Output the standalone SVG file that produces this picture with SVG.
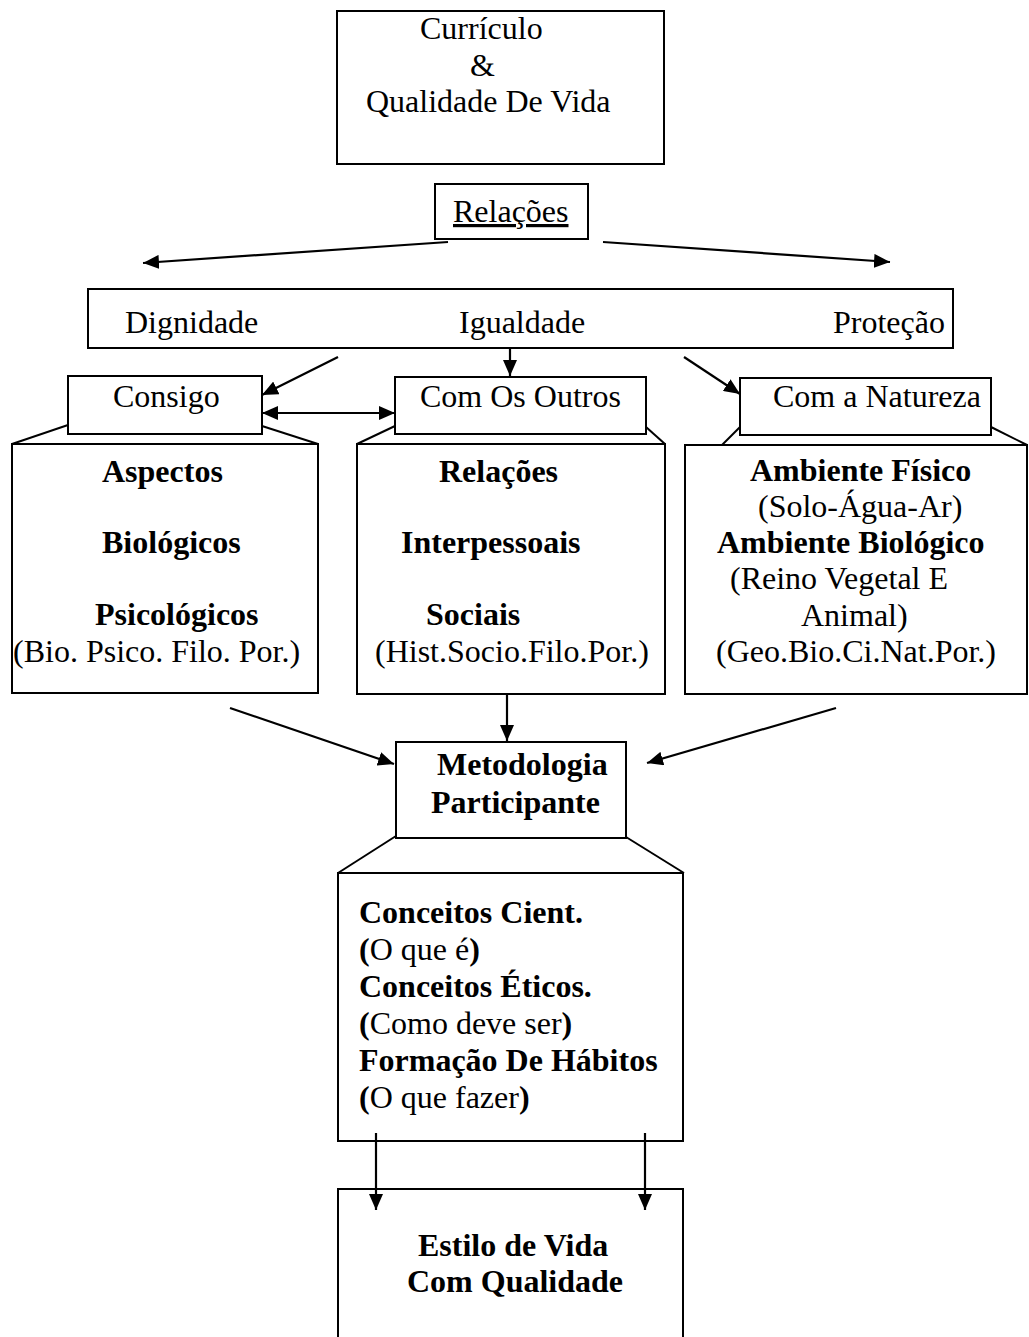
<svg xmlns="http://www.w3.org/2000/svg" width="1029" height="1337" viewBox="0 0 1029 1337">
<style>
.box{fill:#fff;stroke:#000;stroke-width:2}
.ln{fill:none;stroke:#000;stroke-width:2}
.arr{fill:none;stroke:#000;stroke-width:2.2;marker-end:url(#ah)}
text{font-family:"Liberation Serif","Times New Roman",serif;font-size:32px;fill:#000}
.b{font-weight:bold}
.u{text-decoration:underline}
</style>
<defs>
<marker id="ah" markerUnits="userSpaceOnUse" markerWidth="18" markerHeight="14" refX="16" refY="7" orient="auto">
<path d="M0,0 L16,7 L0,14 z" fill="#000"/>
</marker>
<marker id="ahs" markerUnits="userSpaceOnUse" markerWidth="18" markerHeight="14" refX="16" refY="7" orient="auto-start-reverse">
<path d="M0,0 L16,7 L0,14 z" fill="#000"/>
</marker>
</defs>
<rect width="1029" height="1337" fill="#fff"/>

<g id="curriculo">
<rect class="box" x="337" y="11" width="327" height="153"/>
<text x="420" y="39">Currículo</text>
<text x="470" y="76">&amp;</text>
<text x="366" y="112">Qualidade De Vida</text>
</g>

<g id="relacoes">
<rect class="box" x="435" y="184" width="153" height="55"/>
<text class="u" x="453" y="222">Relações</text>
</g>

<g id="valores">
<rect class="box" x="88" y="289" width="865" height="59"/>
<text x="125" y="333">Dignidade</text>
<text x="459" y="333">Igualdade</text>
<text x="833" y="333">Proteção</text>
</g>

<g id="consigo">
<polyline class="ln" points="68,425 12,444"/>
<polyline class="ln" points="262,426 318,444"/>
<rect class="box" x="12" y="444" width="306" height="249"/>
<rect class="box" x="68" y="376" width="194" height="58"/>
<text x="113" y="407">Consigo</text>
<text class="b" x="102" y="482">Aspectos</text>
<text class="b" x="102" y="553">Biológicos</text>
<text class="b" x="95" y="625">Psicológicos</text>
<text x="13" y="662">(Bio. Psico. Filo. Por.)</text>
</g>

<g id="outros">
<polyline class="ln" points="395,426 357,444"/>
<polyline class="ln" points="646,427 665,444"/>
<rect class="box" x="357" y="444" width="308" height="250"/>
<rect class="box" x="395" y="377" width="251" height="57"/>
<text x="420" y="407">Com Os Outros</text>
<text class="b" x="439" y="482">Relações</text>
<text class="b" x="401" y="553">Interpessoais</text>
<text class="b" x="426" y="625">Sociais</text>
<text x="375" y="662">(Hist.Socio.Filo.Por.)</text>
</g>

<g id="natureza">
<polyline class="ln" points="740,427 721,446"/>
<polyline class="ln" points="991,427 1027,445"/>
<rect class="box" x="685" y="445" width="342" height="249"/>
<rect class="box" x="740" y="378" width="251" height="57"/>
<text x="773" y="407">Com a Natureza</text>
<text class="b" x="750" y="481">Ambiente Físico</text>
<text x="758" y="517">(Solo-Água-Ar)</text>
<text class="b" x="717" y="553">Ambiente Biológico</text>
<text x="730" y="589">(Reino Vegetal E</text>
<text x="801" y="626">Animal)</text>
<text x="716" y="662">(Geo.Bio.Ci.Nat.Por.)</text>
</g>

<g id="metodologia">
<polyline class="ln" points="396,836 338,873"/>
<polyline class="ln" points="626,837 684,873"/>
<rect class="box" x="338" y="873" width="345" height="268"/>
<rect class="box" x="396" y="742" width="230" height="96"/>
<text class="b" x="437" y="775">Metodologia</text>
<text class="b" x="431" y="813">Participante</text>
<text class="b" x="359" y="923">Conceitos Cient.</text>
<text x="359" y="960"><tspan class="b">(</tspan>O que é<tspan class="b">)</tspan></text>
<text class="b" x="359" y="997">Conceitos Éticos.</text>
<text x="359" y="1034"><tspan class="b">(</tspan>Como deve ser<tspan class="b">)</tspan></text>
<text class="b" x="359" y="1071">Formação De Hábitos</text>
<text x="359" y="1108"><tspan class="b">(</tspan>O que fazer<tspan class="b">)</tspan></text>
</g>

<g id="estilo">
<rect class="box" x="338" y="1189" width="345" height="170"/>
<text class="b" x="418" y="1256">Estilo de Vida</text>
<text class="b" x="407" y="1292">Com Qualidade</text>
</g>

<g id="connectors">
<line class="arr" x1="448" y1="242" x2="143" y2="263"/>
<line class="arr" x1="603" y1="242" x2="890" y2="262"/>
<line class="arr" x1="338" y1="357" x2="262" y2="395"/>
<line class="arr" x1="510" y1="348" x2="510" y2="376"/>
<line class="arr" x1="684" y1="357" x2="740" y2="394"/>
<line x1="262" y1="413" x2="395" y2="413" style="fill:none;stroke:#000;stroke-width:2.2;marker-start:url(#ahs);marker-end:url(#ahs)"/>
<line class="arr" x1="230" y1="708" x2="394" y2="764"/>
<line class="arr" x1="507" y1="694" x2="507" y2="741"/>
<line class="arr" x1="836" y1="708" x2="647" y2="763"/>
<line class="arr" x1="376" y1="1133" x2="376" y2="1210"/>
<line class="arr" x1="645" y1="1133" x2="645" y2="1210"/>
</g>
</svg>
